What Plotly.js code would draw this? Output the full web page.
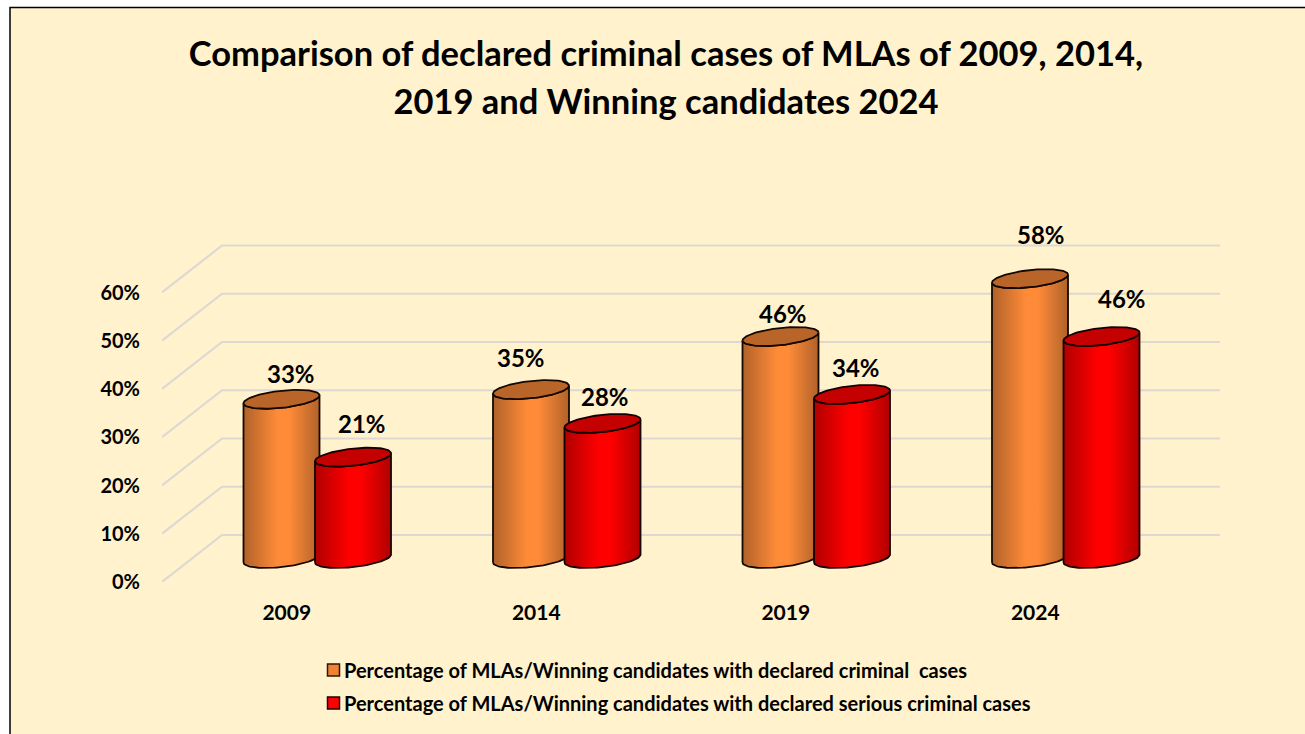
<!DOCTYPE html>
<html>
<head>
<meta charset="utf-8">
<script src="https://cdn.plot.ly/plotly-3.0.1.min.js"></script>
<style>html,body{margin:0;padding:0;background:#fff}#c{width:1305px;height:734px}</style>
</head>
<body>
<div id="c"></div>
<script>
var years = ['2009', '2014', '2019', '2024'];
var criminal = [33, 35, 46, 58];
var serious = [21, 28, 34, 46];
var criminalName = 'Percentage of MLAs/Winning candidates with declared criminal  cases';
var seriousName = 'Percentage of MLAs/Winning candidates with declared serious criminal cases';
var yTicks = [0, 10, 20, 30, 40, 50, 60];
var yTickText = ['0%', '10%', '20%', '30%', '40%', '50%', '60%'];

// pseudo-3D frame, in pixels
var W = 1305, H = 734, L = 162, R = 1220, T = 230, B = 582, WALL_TOP = 245.5;
var DEPTH_X = 60, DEPTH_Y = 47;
var pxX = (R - L - DEPTH_X) / years.length;
var pxY = (B - WALL_TOP - DEPTH_Y) / 60;
var xMin = -0.5, xMax = years.length - 0.5 + DEPTH_X / pxX;
var yMax = (B - T) / pxY;
var midX = 30.5 / pxX, baseY = 23.5 / pxY, sideX = 35.75 / pxX;
var radX = 38 / pxX, radY = 8.6 / pxY, tilt = 4 / pxY;

var traces = [];

// back-wall and side-wall gridlines
var gx = [], gy = [];
yTicks.forEach(function (v) {
  gx.push(xMin, xMin + DEPTH_X / pxX, xMax, null);
  gy.push(v, v + DEPTH_Y / pxY, v + DEPTH_Y / pxY, null);
});
traces.push({x: gx, y: gy, mode: 'lines', line: {color: '#DDD9D2', width: 2.2}, showlegend: false, hoverinfo: 'skip', cliponaxis: false});

function ellipsePoint(cx, cy, t) {
  return [cx + radX * Math.cos(t), cy - radY * Math.sin(t) + tilt * Math.cos(t)];
}
function cylinder(cx, value, edge, centre, top, lineColor) {
  var bodyX = [], bodyY = [], topX = [], topY = [], n = 48, i, p;
  var y0 = baseY, y1 = baseY + value;
  for (i = 0; i <= n; i++) {           // lower edge of the base, left to right
    p = ellipsePoint(cx, y0, Math.PI - Math.PI * i / n);
    bodyX.push(p[0]); bodyY.push(p[1]);
  }
  for (i = 0; i <= n; i++) {           // front edge of the top, right to left
    p = ellipsePoint(cx, y1, Math.PI * i / n);
    bodyX.push(p[0]); bodyY.push(p[1]);
  }
  bodyX.push(bodyX[0]); bodyY.push(bodyY[0]);
  for (i = 0; i <= 2 * n; i++) {
    p = ellipsePoint(cx, y1, Math.PI * i / n);
    topX.push(p[0]); topY.push(p[1]);
  }
  traces.push({
    x: bodyX, y: bodyY, mode: 'lines', fill: 'toself',
    fillgradient: {type: 'horizontal', colorscale: [[0, edge], [0.45, centre], [0.6, centre], [1, edge]]},
    line: {color: lineColor, width: 1.8}, showlegend: false, hoverinfo: 'skip', cliponaxis: false
  });
  traces.push({
    x: topX, y: topY, mode: 'lines', fill: 'toself', fillcolor: top,
    line: {color: lineColor, width: 1.8}, showlegend: false, hoverinfo: 'skip', cliponaxis: false
  });
}
years.forEach(function (yr, i) {
  cylinder(i + midX - sideX, criminal[i], '#B0622A', '#FF8B38', '#B9652A', '#140800');
  cylinder(i + midX + sideX, serious[i], '#B00000', '#FF0000', '#C40000', '#140000');
});

// legend entries
traces.push({x: [null], y: [null], mode: 'markers', name: criminalName, legendgroup: 'a', cliponaxis: false,
  marker: {symbol: 'square', size: 12, color: '#F08232', line: {color: '#2A1A0A', width: 1.5}}, hoverinfo: 'skip'});
traces.push({x: [null], y: [null], mode: 'markers', name: seriousName, legendgroup: 'b', cliponaxis: false,
  marker: {symbol: 'square', size: 12, color: '#FF0000', line: {color: '#200000', width: 1.5}}, hoverinfo: 'skip'});

// value labels, with their offset in pixels from the top of each cylinder
var FONT = 'Lato, "Open Sans", sans-serif';
var criminalShift = [[9.5, 25.5], [-10, 32], [2, 23], [11, 44]];
var seriousShift = [[9, 34], [2, 27], [4, 27], [20, 38]];
var annotations = [];
function label(i, side, value, shift) {
  annotations.push({
    x: i + midX + side, y: baseY + value, xref: 'x', yref: 'y', text: value + '%',
    showarrow: false, xshift: shift[0], yshift: shift[1], xanchor: 'center', yanchor: 'middle',
    font: {family: FONT, size: 24, color: '#000', weight: 700}
  });
}
years.forEach(function (yr, i) {
  label(i, -sideX, criminal[i], criminalShift[i]);
  label(i, sideX, serious[i], seriousShift[i]);
});

var plotW = R - L, plotH = B - T;
var layout = {
  width: W, height: H,
  margin: {l: L, r: W - R, t: T, b: H - B, pad: 0},
  paper_bgcolor: '#fff', plot_bgcolor: 'rgba(0,0,0,0)',
  title: {
    text: '<span style="font-size:34.5px">Comparison of declared criminal cases of MLAs of 2009, 2014,</span><br><span style="font-size:34.5px">2019 and Winning candidates 2024</span>',
    font: {family: FONT, size: 37, color: '#000', weight: 700},
    x: 666 / W, xanchor: 'center', xref: 'container', y: 1 - 66 / H, yanchor: 'top', yref: 'container'
  },
  xaxis: {
    range: [xMin, xMax], tickmode: 'array', tickvals: [0, 1, 2, 3], ticktext: years,
    showgrid: false, zeroline: false, showline: false, ticks: '', ticklabelstandoff: 16, tickangle: 0,
    tickfont: {family: FONT, size: 21, color: '#000', weight: 700}
  },
  yaxis: {
    range: [0, yMax], tickmode: 'array', tickvals: yTicks, ticktext: yTickText,
    showgrid: false, zeroline: false, showline: false, ticks: '', ticklabelstandoff: 21,
    tickfont: {family: FONT, size: 20, color: '#000', weight: 700}
  },
  showlegend: true,
  legend: {
    x: (304 - L) / plotW, y: (B - 722.5) / plotH, xanchor: 'left', yanchor: 'bottom',
    bgcolor: 'rgba(0,0,0,0)', borderwidth: 0, tracegroupgap: 4, orientation: 'v',
    font: {family: FONT, size: 20, color: '#000', weight: 700}
  },
  shapes: [{
    type: 'rect', xref: 'paper', yref: 'paper', layer: 'below',
    x0: (10 - L) / plotW, x1: (W + 5 - L) / plotW,
    y0: (B - H - 5) / plotH, y1: (B - 7.5) / plotH,
    fillcolor: '#FFF2CC', line: {color: '#000', width: 1.5}
  }],
  annotations: annotations
};
Plotly.newPlot('c', traces, layout, {displayModeBar: false, responsive: false}).then(function (gd) {
  // the reference keeps its legend swatches close to the text
  gd.querySelectorAll('.legend .legendsymbols').forEach(function (s) {
    s.setAttribute('transform', 'translate(9.5,0)');
  });
});
</script>
</body>
</html>
